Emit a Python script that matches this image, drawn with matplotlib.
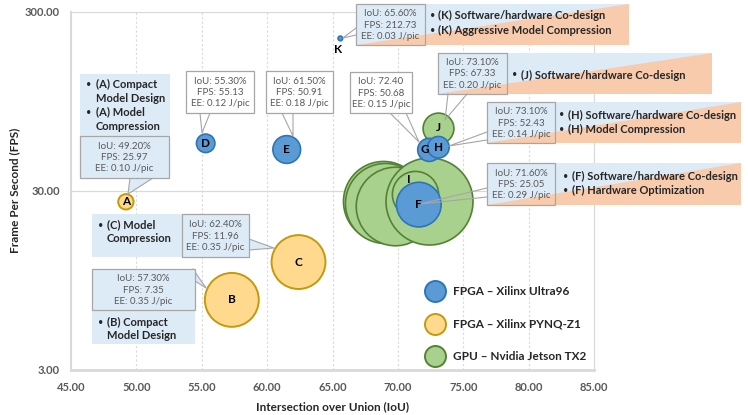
import matplotlib
matplotlib.use('Agg')
import matplotlib.pyplot as plt
from matplotlib.patches import Polygon, Rectangle

# ---------------- data ----------------
labels_blue = ['D', 'E', 'F', 'G', 'H', 'K']
iou_blue = [55.3, 61.5, 71.6, 72.4, 73.1, 65.6]
fps_blue = [55.13, 50.91, 25.05, 50.68, 52.43, 212.73]
ee_blue = [0.12, 0.18, 0.29, 0.15, 0.14, 0.03]

labels_yellow = ['A', 'B', 'C']
iou_yellow = [49.2, 57.3, 62.4]
fps_yellow = [25.97, 7.35, 11.96]
ee_yellow = [0.10, 0.35, 0.35]

labels_green = ['', '', '', '', 'I', 'J']
iou_green = [68.9, 69.05, 69.8, 72.4, 71.3, 73.1]
fps_green = [26.2, 25.5, 24.5, 26.3, 28.6, 67.33]
ee_green = [0.52, 0.52, 0.51, 0.565, 0.30, 0.20]

series_names = ['FPGA – Xilinx Ultra96', 'FPGA – Xilinx PYNQ-Z1', 'GPU – Nvidia Jetson TX2']

x_ticks = [45, 50, 55, 60, 65, 70, 75, 80, 85]
y_ticks = [3, 30, 300]

info_texts = {
    'A': 'IoU: 49.20%\nFPS: 25.97\nEE: 0.10 J/pic',
    'B': 'IoU: 57.30%\nFPS: 7.35\nEE: 0.35 J/pic',
    'C': 'IoU: 62.40%\nFPS: 11.96\nEE: 0.35 J/pic',
    'D': 'IoU: 55.30%\nFPS: 55.13\nEE: 0.12 J/pic',
    'E': 'IoU: 61.50%\nFPS: 50.91\nEE: 0.18 J/pic',
    'G': 'IoU: 72.40\nFPS: 50.68\nEE: 0.15 J/pic',
    'K': 'IoU: 65.60%\nFPS: 212.73\nEE: 0.03 J/pic',
    'J': 'IoU: 73.10%\nFPS: 67.33\nEE: 0.20 J/pic',
    'H': 'IoU: 73.10%\nFPS: 52.43\nEE: 0.14 J/pic',
    'F': 'IoU: 71.60%\nFPS: 25.05\nEE: 0.29 J/pic',
}
bullets = {
    'A': [['(A) Compact', 'Model Design'], ['(A) Model', 'Compression']],
    'B': [['(B) Compact', 'Model Design']],
    'C': [['(C) Model', 'Compression']],
    'K': [['(K) Software/hardware Co-design'], ['(K) Aggressive Model Compression']],
    'J': [['(J) Software/hardware Co-design']],
    'H': [['(H) Software/hardware Co-design'], ['(H) Model Compression']],
    'F': [['(F) Software/hardware Co-design'], ['(F) Hardware Optimization']],
}

# ---------------- styling ----------------
W, H = 748, 415
FONT = ['Lato', 'DejaVu Sans']
plt.rcParams['font.family'] = FONT

BLUE_F, BLUE_E = '#5B9BD5', '#2E75B6'
YEL_F, YEL_E = '#FFD98E', '#C49A0C'
GRN_F, GRN_E = '#A9D18E', '#548235'
LBLUE = '#DDEBF7'
PEACH = '#F8CBAD'
BORDER = '#A6A6A6'
TXT = '#595959'
GRID = '#D9D9D9'

fig = plt.figure(figsize=(W / 100, H / 100), dpi=100)
ax_l, ax_r, ax_t, ax_b = 71, 594, 11.7, 369.5
ax = fig.add_axes([ax_l / W, 1 - ax_b / H, (ax_r - ax_l) / W, (ax_b - ax_t) / H])
ax.set_yscale('log')
ax.set_xlim(45, 85)
ax.set_ylim(3, 300)
ax.set_xticks(x_ticks)
ax.set_xticklabels([f'{v:.2f}' for v in x_ticks])
ax.set_yticks(y_ticks)
ax.set_yticklabels([f'{v:.2f}' for v in y_ticks])
ax.minorticks_off()
ax.tick_params(axis='x', length=0, labelsize=8, labelcolor=TXT, pad=9)
ax.tick_params(axis='y', length=0, labelsize=8, labelcolor=TXT, pad=8)
for lab in ax.get_xticklabels() + ax.get_yticklabels():
    lab.set_fontweight('bold')
for x in x_ticks[1:-1]:
    ax.axvline(x, color=GRID, lw=0.8, ls=(0, (2, 2)), zorder=0)
ax.axhline(30, color=GRID, lw=0.9, zorder=0)
ax.axhline(300, color=GRID, lw=0.9, zorder=0)
ax.spines['top'].set_visible(False)
ax.spines['right'].set_color(GRID)
ax.spines['right'].set_linewidth(0.9)
ax.spines['left'].set_color(GRID)
ax.spines['left'].set_linewidth(1.5)
ax.spines['bottom'].set_color(GRID)
ax.spines['bottom'].set_linewidth(2)
ax.set_xlabel('Intersection over Union (IoU)', fontsize=8.5, fontweight='bold', color='#262626', labelpad=6)
ax.set_ylabel('Frame Per Second (FPS)', fontsize=8.5, fontweight='bold', color='#262626', labelpad=3)

K_PX = 77.0  # bubble radius in px per J/pic


def sizes(ee):
    return [(2 * e * K_PX * 0.72) ** 2 for e in ee]


ax.scatter(iou_yellow, fps_yellow, s=sizes(ee_yellow), c=YEL_F, edgecolors=YEL_E, linewidths=1.4, zorder=2)
for i in range(len(iou_green)):
    ax.scatter([iou_green[i]], [fps_green[i]], s=sizes([ee_green[i]]), c=GRN_F, edgecolors=GRN_E,
               linewidths=1.2, zorder=3 + i * 0.01)
ax.scatter(iou_blue, fps_blue, s=sizes(ee_blue), c=BLUE_F, edgecolors=BLUE_E, linewidths=1.2, zorder=4)

fig.canvas.draw()


def data_px(x, y):
    dx, dy = ax.transData.transform((x, y))
    return dx, H - dy


def F(x, y):
    return (x / W, 1 - y / H)


tr = fig.transFigure

# bubble letters
lbl_off = {'G': (-4, 0), 'K': (-2, 11), 'I': (-6, -15)}
for lab, x, y in zip(labels_blue + labels_yellow + labels_green,
                     iou_blue + iou_yellow + iou_green, fps_blue + fps_yellow + fps_green):
    if not lab:
        continue
    px, py = data_px(x, y)
    ox, oy = lbl_off.get(lab, (0, 0))
    ax.text(*F(px + ox, py + oy), lab, transform=tr, ha='center', va='center', fontsize=8.5,
            fontweight='bold', color='black', zorder=10)


def rect(x0, y0, x1, y1, fc, ec='none', lw=0.8, z=7):
    ax.add_patch(Rectangle(F(x0, y1), (x1 - x0) / W, (y1 - y0) / H, transform=tr, fc=fc, ec=ec, lw=lw,
                           zorder=z, clip_on=False))


def band(x0, y0, x1, y1):
    rect(x0, y0, x1, y1, LBLUE, z=6.5)
    ax.add_patch(Polygon([F(x0, y1), F(x1, y0), F(x1, y1)], closed=True, transform=tr, fc=PEACH, ec='none',
                         zorder=6.6, clip_on=False))


def pointer(b1, b2, tip, fc=None):
    if fc is not None:
        ax.add_patch(Polygon([F(*b1), F(*tip), F(*b2)], closed=True, transform=tr, fc=fc, ec='none',
                             zorder=7.1, clip_on=False))
    ax.plot([F(*b1)[0], F(*tip)[0], F(*b2)[0]], [F(*b1)[1], F(*tip)[1], F(*b2)[1]], transform=tr,
            color=BORDER, lw=0.8, zorder=7.2, clip_on=False)


def callout(lab, box, fc, b1, b2, tip, pfc=None):
    x0, y0, x1, y1 = box
    pointer(b1, b2, tip, pfc)
    rect(x0, y0, x1, y1, fc, BORDER, 0.9, z=7.3)
    ax.text(*F((x0 + x1) / 2, (y0 + y1) / 2 + 0.5), info_texts[lab], transform=tr, ha='center', va='center',
            fontsize=7, color=TXT, linespacing=1.35, zorder=8)


def bullet_text(lab, xb, xt, y0, dy=14, fs=8):
    y = y0
    for item in bullets[lab]:
        ax.text(*F(xb, y), '•', transform=tr, ha='left', va='center', fontsize=fs - 1.5,
                color='#262626', zorder=8)
        for line in item:
            ax.text(*F(xt, y), line, transform=tr, ha='left', va='center', fontsize=fs, fontweight='bold',
                    color='#262626', zorder=8)
            y += dy


# left-side blue boxes
rect(80, 74, 170, 136, LBLUE, z=6.5)
bullet_text('A', 86, 96, 84)
callout('A', (80, 136, 169, 178), LBLUE, (130, 178), (153, 178), (128, 194), LBLUE)

rect(92, 214, 182, 257, LBLUE, z=6.5)
bullet_text('C', 98, 107, 225, dy=13.5)
callout('C', (182, 214, 249, 257), LBLUE, (249, 239), (249, 250), (274, 248), LBLUE)

rect(92, 310, 195, 344, LBLUE, z=6.5)
bullet_text('B', 98, 107, 322, dy=13.5)
callout('B', (92, 269, 195, 310), LBLUE, (193, 269), (195, 281), (206, 288), LBLUE)

callout('D', (186, 71, 254, 113), 'white', (200, 113), (210, 113), (202, 133), 'white')
callout('E', (266, 71, 333, 113), 'white', (282, 113), (293, 113), (293, 136), 'white')
callout('G', (350, 72, 412, 113), 'white', (390, 113), (406, 113), (419, 142))

# right-side bands
band(356, 4, 629, 45)
callout('K', (356, 4, 425, 45), 'none', (356, 28), (356, 35), (343, 38))
bullet_text('K', 430, 438, 15.5, dy=14.5)

band(438, 53, 712, 94)
callout('J', (438, 53, 507, 94), 'none', (448, 94), (467, 94), (445, 120))
bullet_text('J', 512, 521, 75)

band(487, 102, 741, 143)
callout('H', (487, 102, 555, 143), 'none', (487, 132), (487, 140), (449, 146))
bullet_text('H', 559, 568, 115)

band(487, 163, 741, 205)
callout('F', (487, 163, 555, 205), 'none', (487, 188), (487, 197), (420, 204))
bullet_text('F', 563, 572, 176)

# legend
leg_y = [291, 324, 356]
leg_cols = [(BLUE_F, BLUE_E), (YEL_F, YEL_E), (GRN_F, GRN_E)]
for yy, name, (fc, ec) in zip(leg_y, series_names, leg_cols):
    fx, fy = F(435, yy)
    ax.scatter([fx], [fy], s=(2 * 10.5 * 0.72) ** 2, c=fc, edgecolors=ec, linewidths=1.4, transform=tr,
               clip_on=False, zorder=8)
    ax.text(*F(453, yy), name, transform=tr, ha='left', va='center', fontsize=8.5, fontweight='bold',
            color='#262626', zorder=8)

fig.savefig('out.png', dpi=100)
